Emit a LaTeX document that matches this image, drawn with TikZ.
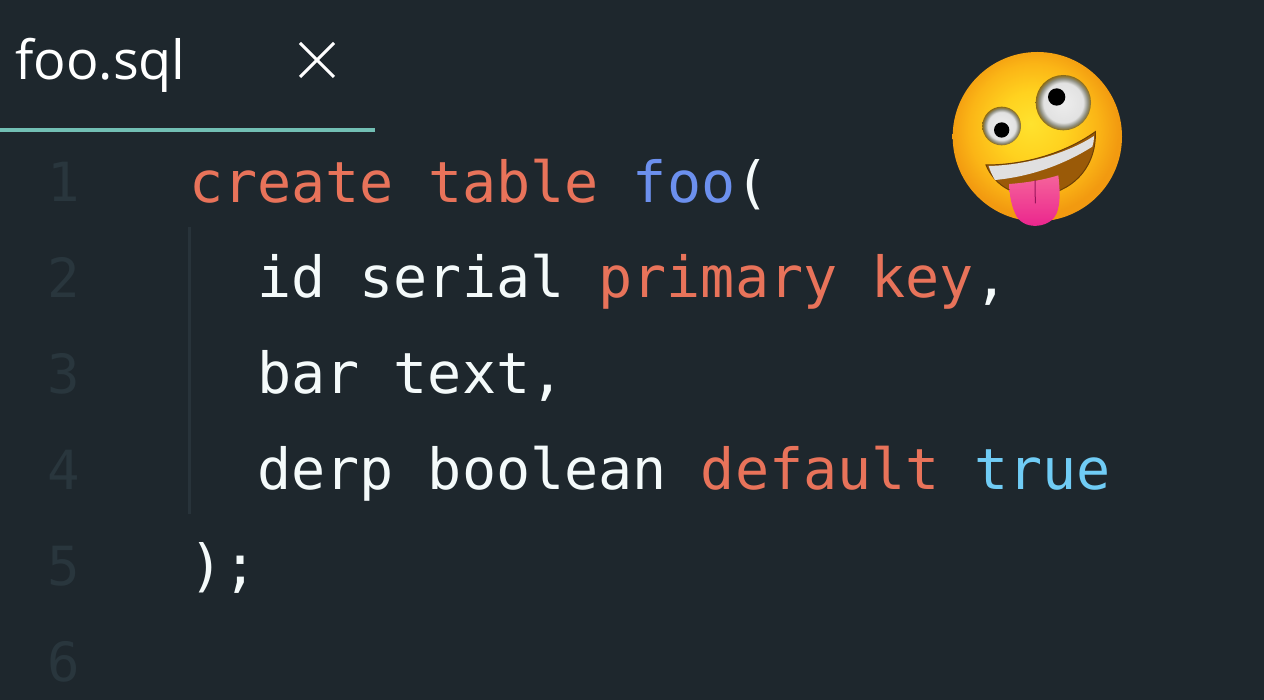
\documentclass[tikz,border=0pt]{standalone}
\usepackage{fontspec}
\setmainfont{Open Sans}
\newfontfamily\codefont{DejaVu Sans Mono}
\definecolor{bgdark}{HTML}{1E272D}
\definecolor{tabline}{HTML}{72BFB4}
\definecolor{lineno}{HTML}{29363D}
\definecolor{guide}{HTML}{28333A}
\definecolor{kwred}{HTML}{E8735A}
\definecolor{kwblue}{HTML}{6C90EE}
\definecolor{kwcyan}{HTML}{70CCF5}
\definecolor{codewhite}{HTML}{F4FAFA}
\definecolor{tonguetop}{HTML}{F5639B}
\definecolor{tonguelow}{HTML}{EA1F8C}
\definecolor{mouthbrown}{HTML}{9A5A08}
\definecolor{facea}{HTML}{FFE22E}
\definecolor{faceb}{HTML}{FFD21F}
\definecolor{facec}{HTML}{FBB516}
\definecolor{faced}{HTML}{F29A10}
\definecolor{eyea}{HTML}{EDEDED}
\definecolor{eyeb}{HTML}{E2E2E2}
\definecolor{eyec}{HTML}{8E8E80}
\definecolor{eyed}{HTML}{8A6A14}
\pgfdeclareradialshading{facegrad}{\pgfpoint{-2bp}{4bp}}{color(0bp)=(facea); color(10bp)=(faceb); color(19bp)=(facec); color(25bp)=(faced); color(50bp)=(faced)}
\pgfdeclareradialshading{eyegrad}{\pgfpoint{0bp}{0bp}}{color(0bp)=(eyea); color(18bp)=(eyeb); color(22bp)=(eyec); color(25bp)=(eyed); color(50bp)=(eyed)}
\tikzset{
    lineno/.style={anchor=base,text=lineno,font=\codefont\fontsize{54}{54}\selectfont,inner sep=0pt},
    code/.style={anchor=base west,text=codewhite,font=\codefont\fontsize{56.7}{57}\selectfont,inner sep=0pt},
}
\begin{document}
\begin{tikzpicture}[x=1pt,y=-1pt]
    \useasboundingbox (0,0) rectangle (1264,700);
    \fill[bgdark] (0,0) rectangle (1264,700);

    % タブ
    \node[anchor=base west,inner sep=0pt,text=white,font=\fontsize{54}{54}\selectfont] (tabname) at (15,80) {foo.sql};
    \coordinate (xa) at (300,43);
    \coordinate (xb) at (334,77);
    \coordinate (xc) at (300,77);
    \coordinate (xd) at (334,43);
    \draw[white,line width=3pt] (xa) -- (xb);
    \draw[white,line width=3pt] (xc) -- (xd);
    \fill[tabline] (0,128) rectangle (375,132);

    % 行番号
    \foreach \n/\y in {1/202,2/298,3/394,4/489,5/585,6/681}{
        \node[lineno] (num\n) at (64,\y) {\n};
    }
    \fill[guide] (188,227) rectangle (191,514);

    % コード
    \node[code] (l1) at (189,203) {\textcolor{kwred}{create table} \textcolor{kwblue}{foo}(};
    \node[code] (l2) at (257,298) {id serial \textcolor{kwred}{primary key},};
    \node[code] (l3) at (257,394) {bar text,};
    \node[code] (l4) at (257,489) {derp boolean \textcolor{kwred}{default} \textcolor{kwcyan}{true}};
    \node[code] (l5) at (189,585) {);};

    % 絵文字
    \begin{scope}[shift={(930,30)},scale=1/3]
        \shade[shading=facegrad] (322,320) circle (254);
        \shade[shading=eyegrad] (400,218) circle (83);
        \fill[black] (380,201) circle (26);
        \shade[shading=eyegrad] (215,288) circle (58);
        \fill[black] (215,300) circle (23);
        % 口
        \fill[mouthbrown,draw=mouthbrown!70!black,line width=1pt] (168,405) .. controls (300,405) and (420,360) .. (496,305)
            .. controls (500,400) and (440,480) .. (340,495)
            .. controls (260,505) and (195,470) .. (168,405) -- cycle;
        \fill[white!88!black] (176,408) .. controls (300,405) and (420,365) .. (492,318)
            .. controls (492,330) and (490,340) .. (487,350)
            .. controls (400,405) and (300,440) .. (195,450)
            .. controls (187,437) and (180,422) .. (176,408) -- cycle;
        % 舌
        \shade[top color=tonguetop,bottom color=tonguelow] (238,462) .. controls (290,458) and (340,450) .. (385,436)
            .. controls (390,480) and (392,520) .. (380,550)
            .. controls (365,590) and (290,605) .. (260,560)
            .. controls (245,530) and (238,500) .. (238,462) -- cycle;
        \draw[tonguelow!65!black,line width=1pt] (315,450) -- (316,520);
    \end{scope}
\end{tikzpicture}
\end{document}
